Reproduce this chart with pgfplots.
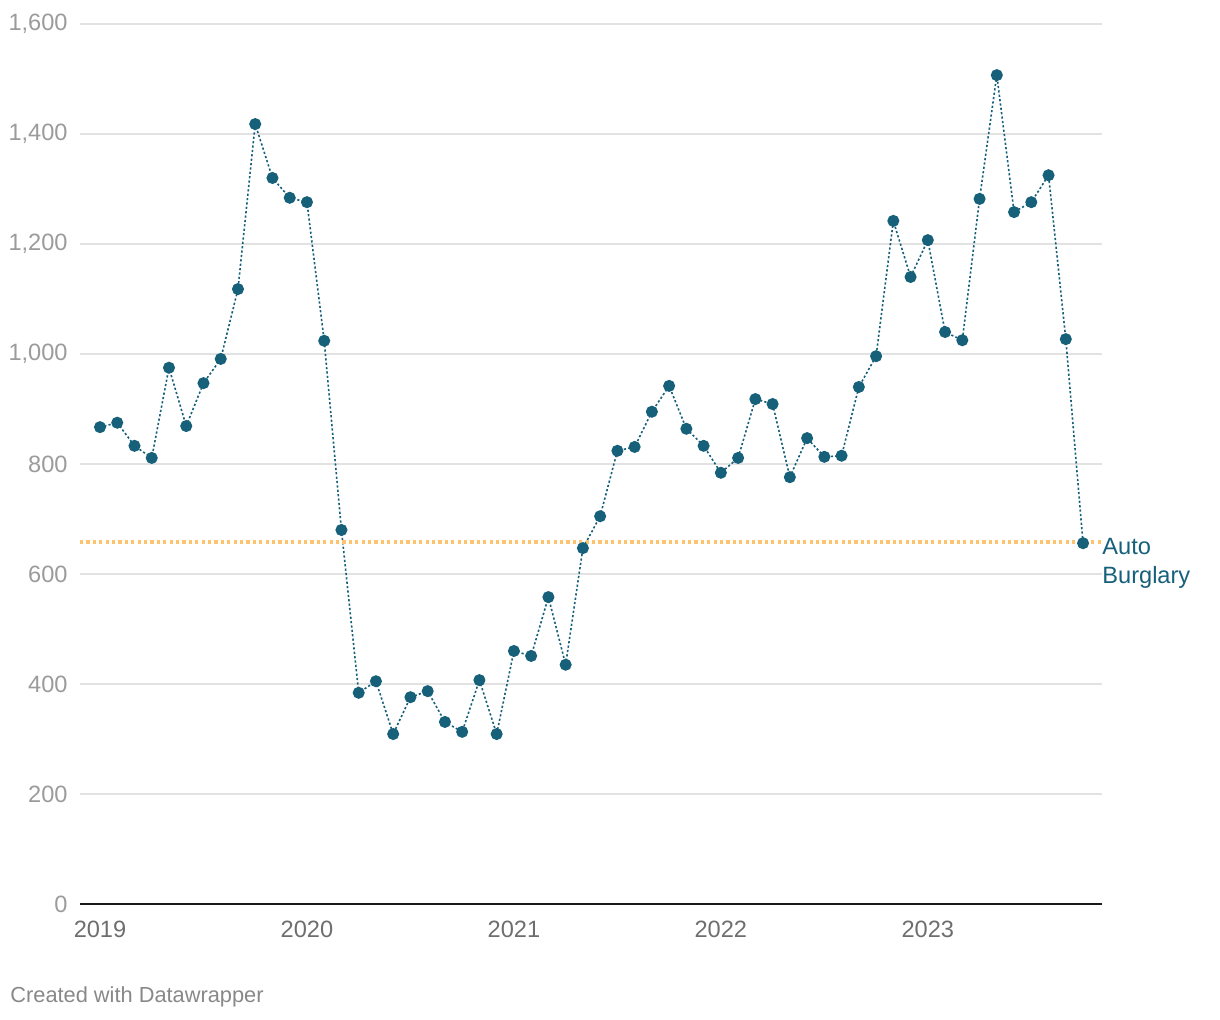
\documentclass[border=0pt]{standalone}
\usepackage{pgfplots}
\pgfplotsset{compat=1.18}
\usepackage{fontspec}
\setmainfont{Liberation Sans}
\definecolor{teal1}{RGB}{22,96,122}
\definecolor{orng}{RGB}{253,196,112}
\definecolor{gridc}{RGB}{226,226,226}
\definecolor{ylab}{RGB}{155,155,155}
\definecolor{xlab}{RGB}{110,110,110}
\definecolor{credit}{RGB}{136,136,136}
\begin{document}
\begin{tikzpicture}
\useasboundingbox (0,0) rectangle (610pt,510pt);
\begin{axis}[
  at={(40pt,58pt)}, anchor=south west,
  scale only axis, width=511pt, height=440pt,
  xmin=-1.16, xmax=58.1, ymin=0, ymax=1600,
  axis line style={draw=none},
  major tick length=0pt,
  ytick={0,200,400,600,800,1000,1200,1400,1600},
  ymajorgrids, grid style={gridc, line width=0.75pt},
  xtick={0,12,24,36,48},
  xticklabels={2019,2020,2021,2022,2023},
  /pgf/number format/.cd, 1000 sep={,}, assume math mode=true,
  /pgfplots/.cd,
  yticklabel style={anchor=east, inner sep=0pt, xshift=-6pt, text=ylab, font=\fontsize{11.8}{13}\selectfont},
  xticklabel style={anchor=north, inner sep=0pt, yshift=-8.5pt, text=xlab, font=\fontsize{11.8}{13}\selectfont},
  clip=false,
]
\draw[black!90, line width=1pt] (rel axis cs:0,0) -- (rel axis cs:1,0);
\addplot[teal1, line width=0.8pt, dash pattern=on 1.1pt off 1.1pt,
  mark=*, mark size=2.6pt, mark options={solid, fill=teal1, draw=teal1}]
coordinates {
(0,867) (1,875) (2,833) (3,811) (4,975) (5,869) (6,947) (7,991) (8,1118) (9,1418)
(10,1320) (11,1284) (12,1276) (13,1024) (14,680) (15,384) (16,405) (17,309) (18,376) (19,387)
(20,331) (21,313) (22,407) (23,309) (24,460) (25,451) (26,558) (27,435) (28,647) (29,705)
(30,824) (31,831) (32,895) (33,942) (34,864) (35,833) (36,784) (37,811) (38,918) (39,909)
(40,776) (41,847) (42,813) (43,815) (44,940) (45,996) (46,1242) (47,1140) (48,1207) (49,1040)
(50,1025) (51,1282) (52,1507) (53,1258) (54,1276) (55,1325) (56,1027) (57,656)
};
\addplot[orng, line width=1.7pt, dash pattern=on 1.6pt off 1.6pt] coordinates {(-1.16,658) (58.1,658)};
\end{axis}
\node[anchor=north west, inner sep=0pt, align=left, text=teal1, font=\fontsize{11.8}{14.5}\selectfont] at (551pt,241pt) {Auto\\Burglary};
\node[anchor=west, inner sep=0pt, text=credit, font=\fontsize{10.9}{13}\selectfont] at (5pt,11.5pt) {Created with Datawrapper};
\end{tikzpicture}
\end{document}
